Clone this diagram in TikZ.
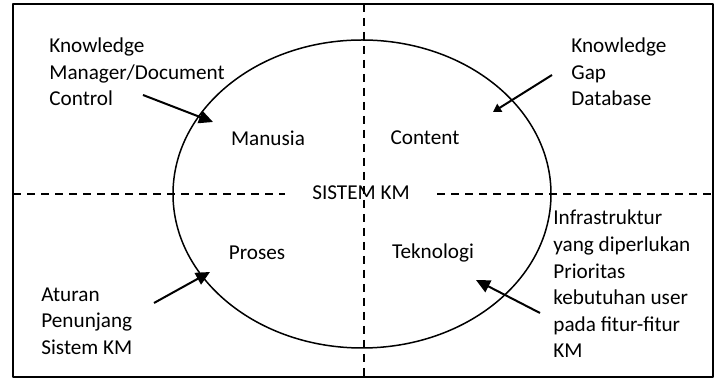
\documentclass[tikz,border=0pt]{standalone}
\usepackage{fontspec}
\setmainfont{Carlito}
\usetikzlibrary{arrows.meta}
\begin{document}
\begin{tikzpicture}[x=0.5pt,y=-0.5pt,font=\fontsize{10.6}{13.3}\selectfont,line join=round,
	lbl/.style={align=left,anchor=west,inner sep=0pt},
	pt/.style={line width=1pt,-{Triangle[length=7pt,width=6.5pt]}},
	sep/.style={dash pattern=on 4pt off 3pt,line width=0.75pt}]
	\def\xmin{13}\def\xmax{713}\def\ymin{4}\def\ymax{377}
	\useasboundingbox (0,0) rectangle (718,378);
	\draw[line width=1pt] (\xmin,\ymin) rectangle (\xmax,\ymax);
	% quadrant dividers
	\draw[sep] (364,\ymin)--(364,\ymax);
	\draw[sep] (\xmin,194)--(285,194) (437,194)--(\xmax,194);
	\draw[line width=0.75pt] (362,194) ellipse [x radius=94.5pt,y radius=77pt];
	\node (km) at (361,193) {SISTEM KM};
	\node (man) at (268,138) {Manusia};
	\node (con) at (425,138) {Content};
	\node (pro) at (257,253) {Proses};
	\node (tek) at (433,253) {Teknologi};
	% outside notes
	\node[lbl] (kmd) at (49,72) {Knowledge\\Manager/Document\\Control};
	\node[lbl] (kgd) at (571,72) {Knowledge\\Gap\\Database};
	\node[lbl] (atr) at (41,321) {Aturan\\Penunjang\\Sistem KM};
	\node[lbl] (inf) at (553,284) {Infrastruktur\\yang diperlukan\\Prioritas\\kebutuhan user\\pada fitur-fitur\\KM};
	\coordinate (t1) at (143,95);  \coordinate (h1) at (213,122);
	\coordinate (t2) at (552,75);  \coordinate (h2) at (493,112);
	\coordinate (t3) at (154,303); \coordinate (h3) at (210,272);
	\coordinate (t4) at (540,313); \coordinate (h4) at (476,280);
	\draw[pt] (t1)--(h1);
	\draw[line width=1pt,-{Triangle[length=4pt,width=4.5pt]}] (t2)--(h2);
	\draw[pt] (t3)--(h3);
	\draw[pt] (t4)--(h4);
\end{tikzpicture}
\end{document}
